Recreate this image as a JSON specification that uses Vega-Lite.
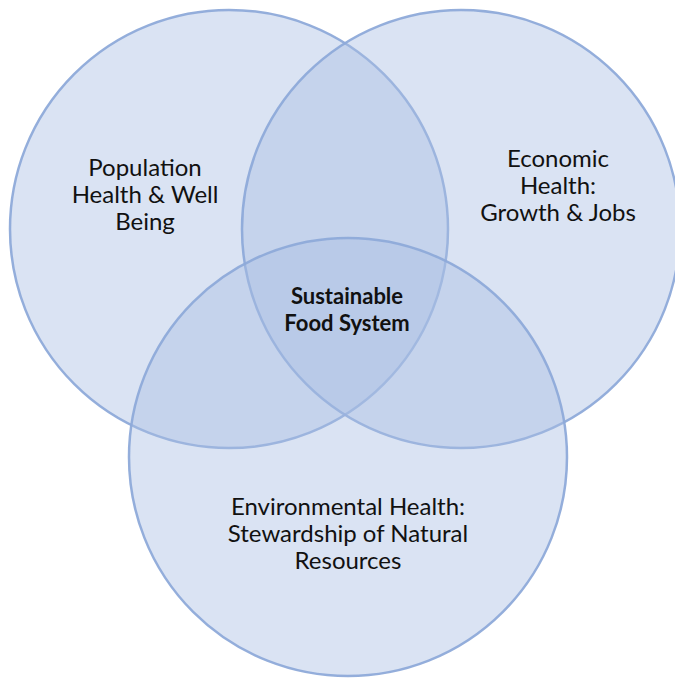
{
  "$schema": "https://vega.github.io/schema/vega-lite/v6.json",
  "width": 675,
  "height": 681,
  "autosize": "none",
  "padding": 0,
  "background": "white",
  "config": {"view": {"stroke": null}},
  "layer": [
    {
      "data": {"values": [
        {"name": "Population", "cx": 229, "cy": 229, "d": 438},
        {"name": "Economic", "cx": 461, "cy": 229, "d": 438},
        {"name": "Environmental", "cx": 348, "cy": 457, "d": 438}
      ]},
      "transform": [{"calculate": "datum.d * datum.d", "as": "area"}],
      "mark": {"type": "point", "shape": "circle", "filled": true, "fill": "#a9bee3", "fillOpacity": 0.43, "stroke": "#8eaad9", "strokeWidth": 2.5, "strokeOpacity": 0.95},
      "encoding": {
        "x": {"field": "cx", "type": "quantitative", "scale": {"domain": [0, 675]}, "axis": null},
        "y": {"field": "cy", "type": "quantitative", "scale": {"domain": [0, 681], "reverse": true}, "axis": null},
        "size": {"field": "area", "type": "quantitative", "scale": null, "legend": null}
      }
    },
    {
      "data": {"values": [
        {"label": ["Population", "Health & Well", "Being"], "tx": 145, "ty": 169},
        {"label": ["Economic", "Health:", "Growth & Jobs"], "tx": 558, "ty": 160},
        {"label": ["Environmental Health:", "Stewardship of Natural", "Resources"], "tx": 348, "ty": 508}
      ]},
      "mark": {"type": "text", "font": "Lato", "fontSize": 24, "lineHeight": 27, "align": "center", "baseline": "middle", "color": "#111111"},
      "encoding": {
        "x": {"field": "tx", "type": "quantitative", "scale": {"domain": [0, 675]}, "axis": null},
        "y": {"field": "ty", "type": "quantitative", "scale": {"domain": [0, 681], "reverse": true}, "axis": null},
        "text": {"field": "label"}
      }
    },
    {
      "data": {"values": [
        {"label": ["Sustainable", "Food System"], "tx": 347, "ty": 297}
      ]},
      "mark": {"type": "text", "font": "Lato", "fontSize": 22, "fontWeight": "bold", "lineHeight": 26.5, "align": "center", "baseline": "middle", "color": "#111111"},
      "encoding": {
        "x": {"field": "tx", "type": "quantitative", "scale": {"domain": [0, 675]}, "axis": null},
        "y": {"field": "ty", "type": "quantitative", "scale": {"domain": [0, 681], "reverse": true}, "axis": null},
        "text": {"field": "label"}
      }
    }
  ]
}
